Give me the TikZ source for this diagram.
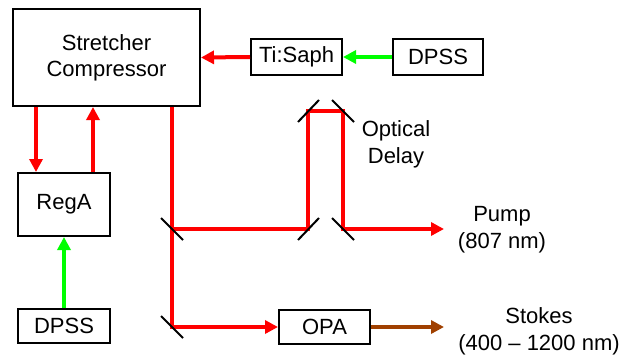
\documentclass[tikz,border=0pt]{standalone}
\usepackage{fontspec}
\setmainfont{Liberation Sans}
\usetikzlibrary{arrows.meta}
\definecolor{beamred}{RGB}{255,0,0}
\definecolor{beamgreen}{RGB}{0,255,0}
\definecolor{beambrown}{RGB}{160,64,0}
\begin{document}
\begin{tikzpicture}[x=1pt,y=-1pt,
  box/.style={draw=black,line width=2pt,fill=white,inner sep=0pt,align=center,
    font=\fontsize{22}{26}\selectfont},
  lbl/.style={inner sep=0pt,align=center,font=\fontsize{22}{27}\selectfont},
  beam/.style={line width=4pt},
  tip/.style={-{Triangle[length=13pt,width=13pt]}},
  redbeam/.style={beam,draw=beamred,tip},
  greenbeam/.style={beam,draw=beamgreen,tip},
  brownbeam/.style={beam,draw=beambrown,tip},
  mirror/.style={draw=black,line width=2pt}]
\useasboundingbox (0,0) rectangle (626,361);
% boxes
\node[box,minimum width=187pt,minimum height=97pt] (sc) at (106.5,57.5) {Stretcher\\Compressor};
\node[box,minimum width=91pt,minimum height=36pt] (ti) at (296.5,57) {Ti:Saph};
\node[box,minimum width=90pt,minimum height=36pt] (dp1) at (438,57) {DPSS};
\node[box,minimum width=92pt,minimum height=63pt] (rega) at (64,204.5) {RegA};
\node[box,minimum width=92pt,minimum height=34pt] (dp2) at (64,326) {DPSS};
\node[box,minimum width=91pt,minimum height=34pt] (opa) at (324.5,326.5) {OPA};
% labels
\node[lbl] (od) at (396,144) {Optical\\Delay};
\node[lbl] (pump) at (502,229.5) {Pump\\(807 nm)};
\node[lbl] (stokes) at (539,331.5) {Stokes\\(400 -- 1200 nm)};
% coordinates
\coordinate (a1) at (36,0);
\coordinate (a2) at (93,0);
\coordinate (m1) at (172,229);
\coordinate (m2) at (308,229);
\coordinate (m3) at (308,111);
\coordinate (m4) at (343,111);
\coordinate (m5) at (343,229);
\coordinate (m6) at (172,327);
\coordinate (pe) at (444,229);
\coordinate (se) at (444,327);
% beams
\draw[greenbeam] (dp1.west) -- (ti.east);
\draw[redbeam] (ti.west) -- (sc.east);
\draw[redbeam] (sc.south -| a1) -- (rega.north -| a1);
\draw[redbeam] (rega.north -| a2) -- (sc.south -| a2);
\draw[greenbeam] (dp2.north) -- (rega.south);
\draw[redbeam] (sc.south -| m1) -- (m6) -- (opa.west |- m6);
\draw[redbeam] (m1) -- (m2) -- (m3) -- (m4) -- (m5) -- (pe);
\draw[brownbeam] (opa.east |- se) -- (se);
% mirrors
\draw[mirror] (m1) ++(-11,-11) -- ++(22,22);
\draw[mirror] (m2) ++(-10,11) -- ++(21,-22);
\draw[mirror] (m3) ++(-10,11) -- ++(21,-22);
\draw[mirror] (m4) ++(-11,-11) -- ++(22,22);
\draw[mirror] (m5) ++(-11,-11) -- ++(22,22);
\draw[mirror] (m6) ++(-11,-11) -- ++(22,22);
\end{tikzpicture}
\end{document}
